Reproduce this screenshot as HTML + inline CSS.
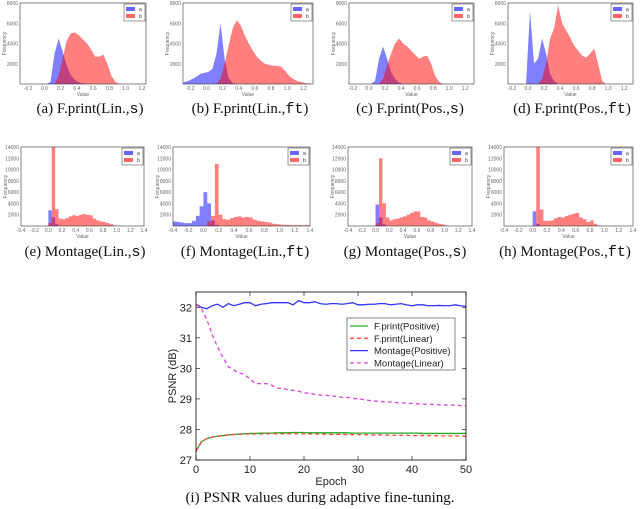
<!DOCTYPE html>
<html><head><meta charset="utf-8">
<style>
body{margin:0;background:#fff;width:640px;height:509px;overflow:hidden;font-family:"Liberation Sans",sans-serif}
.cap{position:absolute;font-family:"Liberation Serif",serif;font-size:15px;color:#111;white-space:nowrap;transform:translateX(-50%)}
.mono{font-family:"Liberation Mono",monospace}
</style></head>
<body>
<svg id="svg" width="640" height="509" style="position:absolute;left:0;top:0"></svg>
<div class="cap" style="left:90px;top:101px">(a) F.print(Lin.,<span class="mono">s</span>)</div>
<div class="cap" style="left:250px;top:101px">(b) F.print(Lin.,<span class="mono">ft</span>)</div>
<div class="cap" style="left:410px;top:101px">(c) F.print(Pos.,<span class="mono">s</span>)</div>
<div class="cap" style="left:572px;top:101px">(d) F.print(Pos.,<span class="mono">ft</span>)</div>
<div class="cap" style="left:85px;top:244px">(e) Montage(Lin.,<span class="mono">s</span>)</div>
<div class="cap" style="left:245px;top:244px">(f) Montage(Lin.,<span class="mono">ft</span>)</div>
<div class="cap" style="left:405px;top:244px">(g) Montage(Pos.,<span class="mono">s</span>)</div>
<div class="cap" style="left:565px;top:244px">(h) Montage(Pos.,<span class="mono">ft</span>)</div>
<div class="cap" style="left:320px;top:490px">(i) PSNR values during adaptive fine-tuning.</div>
<script>
const topStart=-0.3, botStart=-0.4, binStep=0.05;
const aBlue=[0,0,0,0,0,0,0,200,3000,4500,3200,1800,900,400,150,50,0];
const aRed=[0,0,0,0,0,0,0,0,0,800,2500,4300,5000,5100,4800,4400,4000,3400,2700,2700,2900,2000,800,200,0];
const bBlue=[200,300,500,700,1000,1100,1200,1500,3000,6000,2500,600,100,0];
const bRed=[0,0,0,0,0,0,0,0,0,500,2000,3800,5500,6300,5800,4800,4000,3300,2700,2300,2000,1900,1800,1800,1700,1300,800,500,300,200,100,50,0];
const cBlue=[0,0,0,0,0,0,0,300,2500,3700,2500,1200,500,150,0];
const cRed=[0,0,0,0,0,0,0,0,0,500,1800,3000,4000,4500,4000,3700,3300,2900,2500,2700,2800,2000,800,200,0];
const dBlue=[0,0,0,0,0,0,7200,2000,2500,4500,3000,1000,300,0];
const dRed=[0,0,0,0,0,0,0,0,0,500,2000,4500,5500,7800,6000,5300,4600,3800,3300,2800,2600,3000,3500,2000,300,0];
const eBlue=[0,0,0,0,0,0,0,0,2800,1500,300,0];
const eRed=[0,0,0,0,0,0,0,0,500,14000,3000,1300,1200,1400,1700,1900,1800,2000,2100,2000,1900,1300,1000,800,700,500,300,100,0];
const fBlue=[800,700,600,500,500,900,1800,3500,6000,4000,1000,200,0];
const fRed=[0,0,0,0,0,0,0,0,0,800,1800,11000,2000,1200,1100,1400,1600,1700,1500,1600,1500,1100,900,800,700,600,400,300,250,200,200,150,150,150,150,150];
const gBlue=[0,0,0,0,0,0,0,0,3800,1500,300,0];
const gRed=[0,0,0,0,0,0,0,0,500,12000,4000,1500,1000,1200,1300,1500,1700,2000,2300,2600,2600,1600,1500,1000,800,600,400,300,100,0];
const hBlue=[0,0,0,0,0,0,0,0,2600,400,0];
const hRed=[0,0,0,0,0,0,0,0,0,14000,2900,900,900,1000,1400,1600,1500,1800,2000,2200,2300,1500,1200,700,1000,400,100,0];
const topTicks=["-0.2","0.0","0.2","0.4","0.6","0.8","1.0","1.2"];
const botTicks=["-0.4","-0.2","0.0","0.2","0.4","0.6","0.8","1.0","1.2","1.4"];
const topY=["2000","4000","6000","8000"], botY=["2000","4000","6000","8000","10000","12000","14000"];

const epochs=Array.from({length:51},(_,i)=>i);
const montagePos=[32.1,32.0,31.95,32.05,32.1,32.0,32.12,32.05,32.1,32.15,32.15,32.05,32.1,32.12,32.15,32.15,32.15,32.15,32.08,32.22,32.15,32.15,32.18,32.12,32.1,32.12,32.12,32.1,32.12,32.15,32.08,32.08,32.1,32.1,32.12,32.12,32.08,32.1,32.12,32.08,32.05,32.08,32.08,32.05,32.05,32.06,32.05,32.05,32.08,32.05,32.03];
const montageLin=[32.1,31.95,31.6,31.1,30.7,30.35,30.05,29.95,29.85,29.8,29.65,29.5,29.5,29.5,29.45,29.35,29.35,29.3,29.28,29.25,29.2,29.18,29.15,29.13,29.12,29.1,29.08,29.05,29.05,29.02,29.0,28.98,28.95,28.93,28.92,28.9,28.9,28.88,28.87,28.86,28.85,28.84,28.83,28.82,28.82,28.81,28.8,28.8,28.8,28.78,28.77];
const fprintPos=[27.3,27.6,27.7,27.75,27.78,27.8,27.82,27.84,27.85,27.86,27.87,27.87,27.88,27.88,27.88,27.89,27.89,27.89,27.9,27.9,27.9,27.89,27.89,27.89,27.89,27.89,27.89,27.89,27.89,27.88,27.88,27.88,27.88,27.88,27.88,27.88,27.88,27.88,27.88,27.88,27.88,27.88,27.87,27.87,27.87,27.87,27.87,27.87,27.87,27.87,27.87];
const fprintLin=[27.28,27.58,27.7,27.75,27.78,27.8,27.82,27.83,27.84,27.85,27.85,27.85,27.85,27.86,27.86,27.86,27.86,27.86,27.86,27.86,27.85,27.85,27.85,27.85,27.84,27.84,27.84,27.84,27.83,27.83,27.83,27.83,27.82,27.82,27.82,27.82,27.81,27.81,27.81,27.81,27.8,27.8,27.8,27.8,27.8,27.79,27.79,27.79,27.79,27.78,27.78];
const psnrTicksY=["27","28","29","30","31","32"], psnrTicksX=["0","10","20","30","40","50"];

const NS="http://www.w3.org/2000/svg", svg=document.getElementById('svg');
function mk(t,a,p){const e=document.createElementNS(NS,t);for(const k in a)e.setAttribute(k,a[k]);(p||svg).appendChild(e);return e;}

function hist(name,L,R,T,B,xmin,xmax,ymax,start,blue,red,xt,yt,smooth){
  const g=mk('g',{});
  
  
  const sx=v=>L+(v-xmin)/(xmax-xmin)*(R-L), sy=v=>B-v/ymax*(B-T);
  const cl=x=>Math.max(L,Math.min(R,x));
  [[blue,'rgba(0,0,255,0.5)','series-a'],[red,'rgba(255,0,0,0.5)','series-b']].forEach(([arr,col,nm])=>{
    let d='M'+cl(sx(start))+','+B;
    arr.forEach((v,i)=>{
      if(smooth){d+='L'+cl(sx(start+(i+0.5)*binStep))+','+sy(v);}
      else{const x0=cl(sx(start+i*binStep)),x1=cl(sx(start+(i+1)*binStep));d+='L'+x0+','+sy(v)+'L'+x1+','+sy(v);}
    });
    d+='L'+cl(sx(start+arr.length*binStep))+','+B+'Z';
    const p=mk('path',{d:d,fill:col},g);
    
    
  });
  mk('rect',{x:L,y:T,width:R-L,height:B-T,fill:'none',stroke:'#333','stroke-width':0.6},g);
  xt.forEach(s=>{const x=sx(parseFloat(s));const t=mk('text',{x:x,y:B+6,'font-size':5,fill:'#666','text-anchor':'middle'},g);t.textContent=s;
    });
  yt.forEach(s=>{const y=sy(parseFloat(s));if(y<T-1)return;const t=mk('text',{x:L-2,y:y+2,'font-size':5,fill:'#666','text-anchor':'end'},g);t.textContent=s;
    });
  const xl=mk('text',{x:(L+R)/2,y:B+12,'font-size':5,fill:'#666','text-anchor':'middle'},g);xl.textContent='Value';
  
  const yl=mk('text',{x:L-14,y:(T+B)/2,'font-size':5,fill:'#666','text-anchor':'middle',transform:`rotate(-90 ${L-14} ${(T+B)/2})`},g);yl.textContent='Frequency';
  
  const lg=mk('g',{},g);
  
  mk('rect',{x:R-22,y:T+1,width:21,height:17,fill:'#fff',stroke:'#333','stroke-width':0.5},lg);
  mk('rect',{x:R-20,y:T+4,width:9,height:4,fill:'rgba(0,0,255,0.6)'},lg);
  mk('rect',{x:R-20,y:T+11,width:9,height:4,fill:'rgba(255,0,0,0.6)'},lg);
  const ta=mk('text',{x:R-7,y:T+8,'font-size':5,fill:'#333'},lg);ta.textContent='a';
  const tb=mk('text',{x:R-7,y:T+15,'font-size':5,fill:'#333'},lg);tb.textContent='b';
}
hist('histogram-a',20,146,3,84,-0.3,1.25,8000,topStart,aBlue,aRed,topTicks,topY,true);
hist('histogram-b',183,313,3,84,-0.29,1.32,8000,topStart,bBlue,bRed,topTicks,topY,true);
hist('histogram-c',349,474,3,84,-0.25,1.31,8000,topStart,cBlue,cRed,topTicks,topY,true);
hist('histogram-d',508,633,3,84,-0.25,1.31,8000,topStart,dBlue,dRed,topTicks,topY,true);
hist('histogram-e',21,144,147,226,-0.4,1.4,14000,botStart,eBlue,eRed,botTicks,botY,false);
hist('histogram-f',173,310,147,226,-0.4,1.4,14000,botStart,fBlue,fRed,botTicks,botY,false);
hist('histogram-g',348,472,147,226,-0.4,1.4,14000,botStart,gBlue,gRed,botTicks,botY,false);
hist('histogram-h',504,633,147,226,-0.4,1.4,14000,botStart,hBlue,hRed,botTicks,botY,false);

(function(){
  const L=196,R=466,T=292,B=460,ymin=27,ymax=32.5;
  const g=mk('g',{});
  
  
  const sx=v=>L+v/50*(R-L), sy=v=>B-(v-ymin)/(ymax-ymin)*(B-T);
  psnrTicksY.forEach(s=>{const y=sy(+s);mk('line',{x1:L,x2:L+4,y1:y,y2:y,stroke:'#000','stroke-width':0.6},g);mk('line',{x1:R,x2:R-4,y1:y,y2:y,stroke:'#000','stroke-width':0.6},g);
    const t=mk('text',{x:L-4,y:y+4,'font-size':11,'text-anchor':'end',fill:'#222'},g);t.textContent=s;
    });
  psnrTicksX.forEach(s=>{const x=sx(+s);mk('line',{x1:x,x2:x,y1:B,y2:B-4,stroke:'#000','stroke-width':0.6},g);mk('line',{x1:x,x2:x,y1:T,y2:T+4,stroke:'#000','stroke-width':0.6},g);
    const t=mk('text',{x:x,y:B+13,'font-size':11,'text-anchor':'middle',fill:'#222'},g);t.textContent=s;
    });
  const series=[[fprintPos,'#22aa22','','fprint-positive-line'],[fprintLin,'#ff4444','4,3','fprint-linear-line'],[montagePos,'#3333ff','','montage-positive-line'],[montageLin,'#dd44dd','4,3','montage-linear-line']];
  series.forEach(([arr,col,da,nm])=>{
    const pts=arr.map((v,i)=>sx(epochs[i])+','+sy(v)).join(' ');
    const p=mk('polyline',{points:pts,fill:'none',stroke:col,'stroke-width':1.3,'stroke-dasharray':da},g);
    
    
  });
  mk('rect',{x:L,y:T,width:R-L,height:B-T,fill:'none',stroke:'#000','stroke-width':0.8},g);
  const xl=mk('text',{x:(L+R)/2,y:B+25,'font-size':11,'text-anchor':'middle',fill:'#222'},g);xl.textContent='Epoch';
  
  const yl=mk('text',{x:176,y:(T+B)/2,'font-size':11,'text-anchor':'middle',fill:'#222',transform:`rotate(-90 176 ${(T+B)/2})`},g);yl.textContent='PSNR (dB)';
  
  const lg=mk('g',{},g);
  
  mk('rect',{x:347,y:318,width:108,height:52,fill:'#fff',stroke:'#333','stroke-width':0.6},lg);
  const names=['F.print(Positive)','F.print(Linear)','Montage(Positive)','Montage(Linear)'];
  series.forEach(([a,col,da],i)=>{const y=326+i*12.3;
    mk('line',{x1:350,x2:368,y1:y,y2:y,stroke:col,'stroke-width':1.3,'stroke-dasharray':da},lg);
    const t=mk('text',{x:374,y:y+3.5,'font-size':9.5,fill:'#222'},lg);t.textContent=names[i];
    });
})();
</script>
</body></html>
